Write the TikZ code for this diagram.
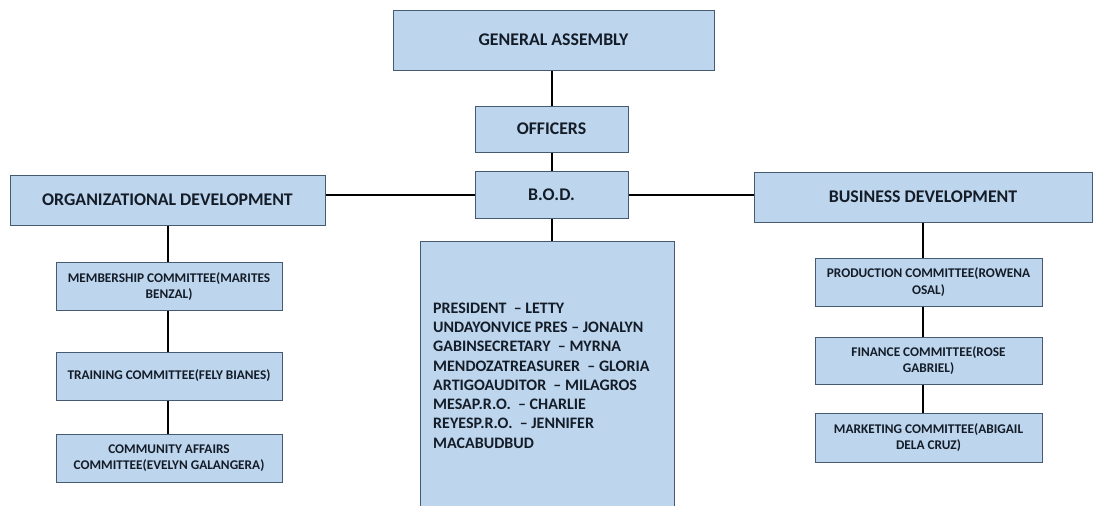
\documentclass[tikz,border=0pt]{standalone}
\usepackage{fontspec}
\setmainfont{Carlito}
\usetikzlibrary{positioning}
\definecolor{boxBlue}{RGB}{189,214,238}
\definecolor{boxEdge}{RGB}{70,90,115}
\definecolor{textInk}{RGB}{20,28,40}

\begin{document}
\begin{tikzpicture}[x=1pt,y=-1pt,
    unit/.style={draw=boxEdge,fill=boxBlue,line width=1pt,text=textInk,
      font=\bfseries,align=center,inner sep=0pt},
    head/.style={unit,font=\fontsize{17.8}{21}\selectfont\bfseries},
    cmte/.style={unit,minimum width=226,minimum height=48,
      font=\fontsize{13.3}{16.5}\selectfont\bfseries},
    link/.style={line width=2pt,black}]
  \clip (0,0) rectangle (1096,506);
  \fill[white] (0,0) rectangle (1096,506);

  % top of the chart
  \node[head,minimum width=321,minimum height=60] (ga) at (553.5,40) {GENERAL ASSEMBLY};
  \node[head,minimum width=153,minimum height=46] (off) at (551.5,129) {OFFICERS};
  \node[head,minimum width=153,minimum height=47] (bod) at (551.5,194.5) {B.O.D.};

  % the two branches
  \node[head,minimum width=315,minimum height=50] (orgdev) at (167.5,200) {ORGANIZATIONAL DEVELOPMENT};
  \node[head,minimum width=338,minimum height=50] (bizdev) at (923,197) {BUSINESS DEVELOPMENT};

  \node[cmte] (memb) at (169,286.5) {MEMBERSHIP COMMITTEE(MARITES\\BENZAL)};
  \node[cmte] (train) at (169,376) {TRAINING COMMITTEE(FELY BIANES)};
  \node[cmte] (comm) at (169,458) {COMMUNITY AFFAIRS\\COMMITTEE(EVELYN GALANGERA)};

  \node[cmte,minimum width=227] (prod) at (928.5,282) {PRODUCTION COMMITTEE(ROWENA\\OSAL)};
  \node[cmte,minimum width=227,minimum height=47] (fin) at (928.5,360.5) {FINANCE COMMITTEE(ROSE\\GABRIEL)};
  \node[cmte,minimum width=227,minimum height=49] (mark) at (928.5,437.5) {MARKETING COMMITTEE(ABIGAIL\\DELA CRUZ)};

  % board members
  \node[unit,minimum width=254,minimum height=279] (board) at (547,380.5) {};
  \node[anchor=west,text=textInk,align=left,inner sep=0pt,
    font=\fontsize{16}{19.3}\selectfont\bfseries] (members) at (433,375.5)
    {PRESIDENT~~– LETTY\\
     UNDAYONVICE PRES – JONALYN\\
     GABINSECRETARY~~– MYRNA\\
     MENDOZATREASURER~~– GLORIA\\
     ARTIGOAUDITOR~~– MILAGROS\\
     MESAP.R.O.~~– CHARLIE\\
     REYESP.R.O.~~– JENNIFER\\
     MACABUDBUD};

  % connectors
  \draw[link] (off.north) -- (off.north |- ga.south);
  \draw[link] (off.south) -- (bod.north);
  \draw[link] (bod.south) -- (bod.south |- board.north);
  \draw[link] (bod.west) -- (bod.west -| orgdev.east);
  \draw[link] (bod.east) -- (bod.east -| bizdev.west);
  \draw[link] (orgdev.south) -- (orgdev.south |- memb.north);
  \draw[link] (orgdev.south |- memb.south) -- (orgdev.south |- train.north);
  \draw[link] (orgdev.south |- train.south) -- (orgdev.south |- comm.north);
  \draw[link] (bizdev.south) -- (bizdev.south |- prod.north);
  \draw[link] (bizdev.south |- prod.south) -- (bizdev.south |- fin.north);
  \draw[link] (bizdev.south |- fin.south) -- (bizdev.south |- mark.north);
\end{tikzpicture}
\end{document}
